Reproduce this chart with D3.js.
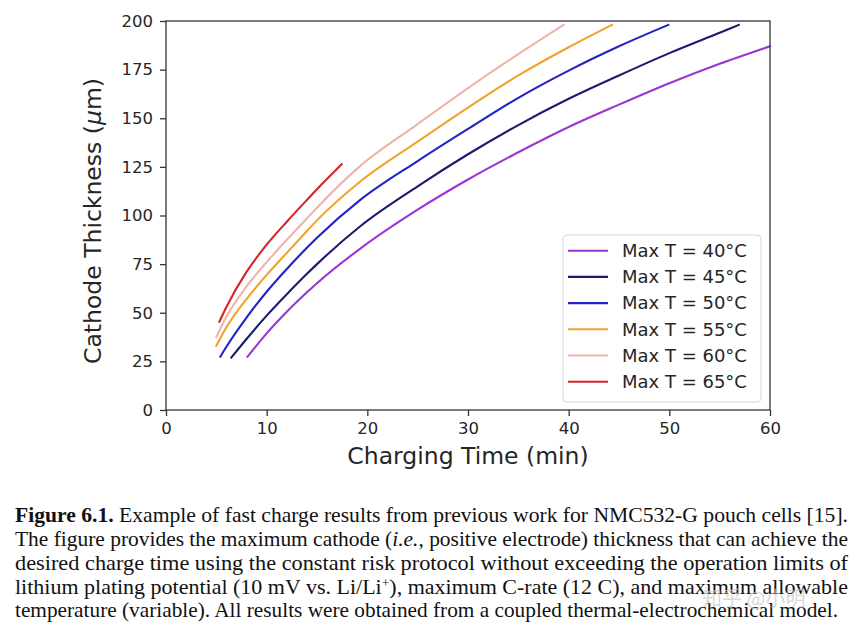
<!DOCTYPE html>
<html>
  <head>
    <meta charset="utf-8">
    <title>Cathode thickness vs charging time</title>
    <script src="https://d3js.org/d3.v7.min.js"></script>
    <style>
      body { margin: 0; background: #fff; }
      svg { display: block; }
    </style>
  </head>
  <body>
    <div id="chart"></div>

    <script>
      // Values: charging time (min) and max cathode thickness (um)
      var seriesLabels = ["Max T = 40°C", "Max T = 45°C", "Max T = 50°C",
                          "Max T = 55°C", "Max T = 60°C", "Max T = 65°C"];

      var time40 = [8.1, 10, 12, 14, 15, 19.3, 25, 30, 35, 40, 45, 50, 55, 60];
      var thick40 = [27.4, 39.4, 50.5, 60.5, 65.2, 83, 103, 118.5, 132.5, 145.5, 157, 168, 178, 187];

      var time45 = [6.5, 8, 10, 12, 14, 15, 19.3, 25, 30, 35, 40, 45, 50, 55, 56.9];
      var thick45 = [27, 36.5, 48.5, 59.5, 70, 75, 94.5, 115, 131.5, 146.5, 160, 172, 183.5, 194, 198];

      var time50 = [5.4, 6, 8, 10, 12, 13.3, 15, 19.3, 25, 30, 35, 40, 45, 49.9];
      var thick50 = [27.4, 32.5, 47.5, 60.8, 72.5, 79.7, 88.5, 108, 128, 144.5, 160.5, 174.5, 187, 198];

      var time55 = [5.0, 6, 8, 10, 12, 14, 15, 19.3, 25, 30, 35, 40, 44.3];
      var thick55 = [33, 42.5, 57, 69.5, 80.8, 92, 97.5, 117.5, 138, 155.5, 172, 186.5, 198];

      var time60 = [5.0, 6, 8, 10, 12, 14, 15, 19.3, 25, 30, 35, 39.5];
      var thick60 = [37.5, 48, 63.5, 76, 87.5, 98.5, 104, 125.5, 147, 165.5, 183, 198];

      var time65 = [5.3, 6, 8, 10, 12, 14, 15, 17.45];
      var thick65 = [45.4, 53, 71, 85, 96.8, 108, 113.5, 126.3];

      var xTicks = [0, 10, 20, 30, 40, 50, 60];
      var yTicks = [0, 25, 50, 75, 100, 125, 150, 175, 200];

      var captionLines = [
        [["Figure 6.1.", "bold"], [" Example of fast charge results from previous work for NMC532-G pouch cells [15].", ""]],
        [["The figure provides the maximum cathode (", ""], ["i.e.", "italic"], [", positive electrode) thickness that can achieve the", ""]],
        [["desired charge time using the constant risk protocol without exceeding the operation limits of", ""]],
        [["lithium plating potential (10 mV vs. Li/Li", ""], ["+", "sup"], ["), maximum C-rate (12 C), and maximum allowable", ""]],
        [["temperature (variable). All results were obtained from a coupled thermal-electrochemical model.", ""]]
      ];

      var colors = ["#9b35d4", "#1c1c6e", "#2323c8", "#f2a22e", "#f0b3a8", "#d8232a"];

      var series = [
        [time40, thick40], [time45, thick45], [time50, thick50],
        [time55, thick55], [time60, thick60], [time65, thick65]
      ].map(function (s, i) {
        return {
          label: seriesLabels[i],
          color: colors[i],
          points: s[0].map(function (t, j) { return {t: t, v: s[1][j]}; })
        };
      });

      var width = 865, height = 632;
      var plot = {left: 166, right: 770, top: 21, bottom: 410};

      var svg = d3.select("#chart").append("svg")
          .attr("width", width).attr("height", height);

      var x = d3.scaleLinear().domain([0, 60]).range([plot.left, plot.right]);
      var y = d3.scaleLinear().domain([0, 200]).range([plot.bottom, plot.top]);

      var tickFont = "DejaVu Sans, sans-serif";

      // curves
      var line = d3.line()
          .x(function (d) { return x(d.t); })
          .y(function (d) { return y(d.v); })
          .curve(d3.curveMonotoneX);

      svg.append("g").selectAll("path")
          .data(series)
          .enter().append("path")
          .attr("d", function (d) { return line(d.points); })
          .attr("fill", "none")
          .attr("stroke", function (d) { return d.color; })
          .attr("stroke-width", 2.1)
          .attr("stroke-linecap", "square");

      // axes
      var xAxis = svg.append("g")
          .attr("transform", "translate(0," + plot.bottom + ")")
          .call(d3.axisBottom(x).tickValues(xTicks).tickSize(6).tickPadding(6));
      var yAxis = svg.append("g")
          .attr("transform", "translate(" + plot.left + ",0)")
          .call(d3.axisLeft(y).tickValues(yTicks).tickSize(6).tickPadding(7));

      [xAxis, yAxis].forEach(function (a) {
        a.select(".domain").remove();
        a.selectAll("line").attr("stroke", "#333").attr("stroke-width", 1.3);
        a.selectAll("text")
            .attr("fill", "#262626")
            .style("font-family", tickFont)
            .style("font-size", "16.5px");
      });

      // frame
      svg.append("rect")
          .attr("x", plot.left).attr("y", plot.top)
          .attr("width", plot.right - plot.left)
          .attr("height", plot.bottom - plot.top)
          .attr("fill", "none")
          .attr("stroke", "#333")
          .attr("stroke-width", 1.3);

      // axis titles
      svg.append("text")
          .attr("x", (plot.left + plot.right) / 2)
          .attr("y", 464)
          .attr("text-anchor", "middle")
          .attr("fill", "#262626")
          .style("font-family", tickFont)
          .style("font-size", "23.5px")
          .text("Charging Time (min)");

      var yTitle = svg.append("text")
          .attr("transform", "translate(101," + 221 + ") rotate(-90)")
          .attr("text-anchor", "middle")
          .attr("fill", "#262626")
          .style("font-family", tickFont)
          .style("font-size", "23.5px");
      yTitle.append("tspan").text("Cathode Thickness (");
      yTitle.append("tspan").style("font-style", "italic").text("\u03bc");
      yTitle.append("tspan").text("m)");

      // legend
      var legend = svg.append("g");
      legend.append("rect")
          .attr("x", 563).attr("y", 235)
          .attr("width", 198).attr("height", 167)
          .attr("rx", 4)
          .attr("fill", "#fff").attr("fill-opacity", 0.8)
          .attr("stroke", "#d6d6d6");

      var item = legend.selectAll("g.item")
          .data(series)
          .enter().append("g")
          .attr("class", "item")
          .attr("transform", function (d, i) { return "translate(0," + (250.7 + i * 26.2) + ")"; });
      item.append("line")
          .attr("x1", 568).attr("x2", 608)
          .attr("stroke", function (d) { return d.color; })
          .attr("stroke-width", 2.1);
      item.append("text")
          .attr("x", 622)
          .attr("dy", "0.35em")
          .attr("fill", "#262626")
          .style("font-family", tickFont)
          .style("font-size", "18px")
          .text(function (d) { return d.label; });

      // caption
      var capBase = [522, 546, 570, 594, 617];
      var capRight = [848, 848, 848, 848, 838];
      captionLines.forEach(function (segs, i) {
        var t = svg.append("text")
            .attr("x", 15)
            .attr("y", capBase[i])
            .attr("textLength", capRight[i] - 15)
            .attr("lengthAdjust", "spacingAndGlyphs")
            .attr("fill", "#111")
            .style("font-family", "Liberation Serif, Times New Roman, serif")
            .style("font-size", "21px");
        segs.forEach(function (s) {
          var sp = t.append("tspan").text(s[0]);
          if (s[1] === "bold") sp.style("font-weight", "bold");
          if (s[1] === "italic") sp.style("font-style", "italic");
          if (s[1] === "sup") sp.attr("baseline-shift", "super").style("font-size", "13px");
        });
      });

      // watermark (sits over the caption, as in the source image)
      svg.append("text")
          .attr("x", 702).attr("y", 606)
          .attr("fill", "#c8c8c8")
          .attr("fill-opacity", 0.7)
          .style("font-family", "Noto Sans CJK SC, sans-serif")
          .style("font-size", "20px")
          .text("知乎 @小明");
    </script>
  </body>
</html>
